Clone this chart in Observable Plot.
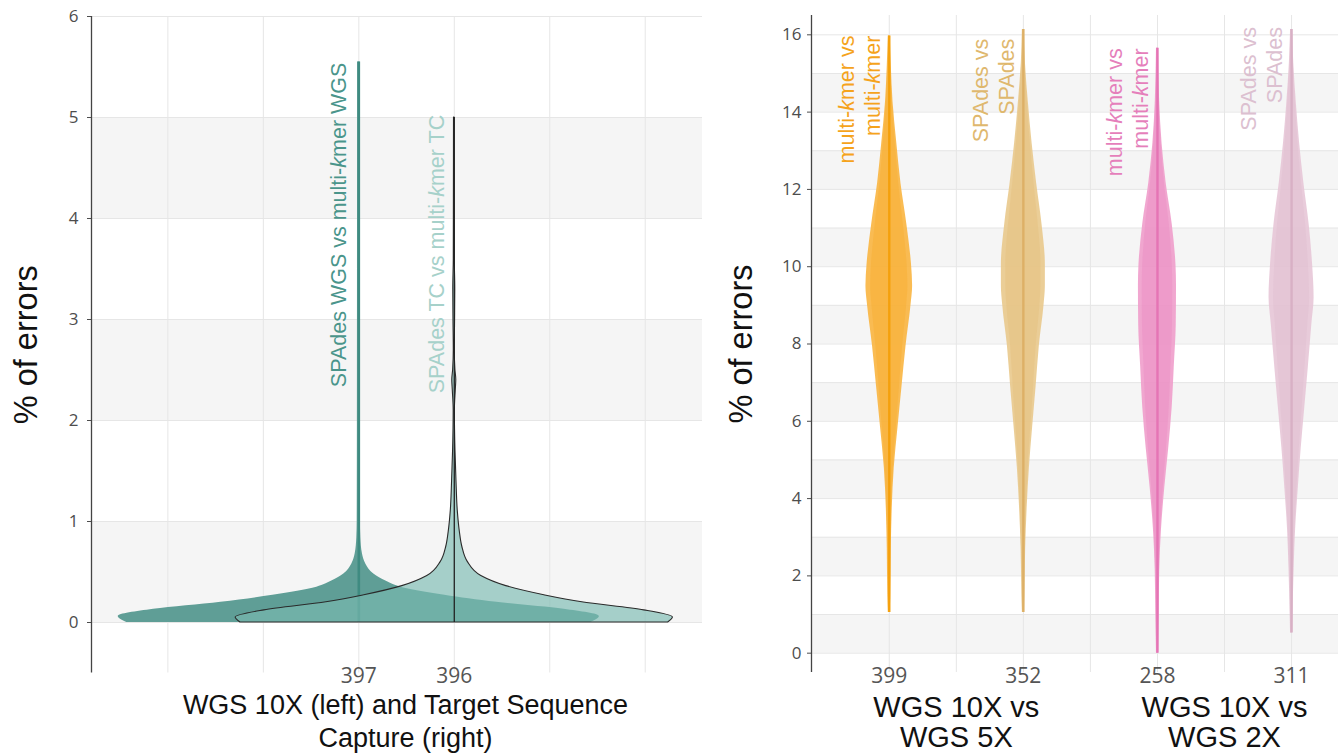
<!DOCTYPE html>
<html><head><meta charset="utf-8">
<script src="https://cdn.jsdelivr.net/npm/d3@7"></script>
<script src="https://cdn.jsdelivr.net/npm/@observablehq/plot@0.6"></script>
<style>
body{margin:0;background:#fff;}
#wrap{position:relative;width:1338px;height:754px;overflow:hidden;background:#fff;}
#left{position:absolute;left:0;top:0;}
#right{position:absolute;left:720px;top:0;}
</style></head><body><div id="wrap"><div id="left"></div><div id="right"></div></div>
<script>
// ---------- LEFT PANEL DATA ----------
const leftCategories = ["397", "396"];
const leftPositions = [3, 4];
const leftViolinLabels = ["SPAdes WGS vs multi-kmer WGS", "SPAdes TC vs multi-kmer TC"];
const leftTitle = "WGS 10X (left) and Target Sequence\nCapture (right)";
const leftTicks = [0, 1, 2, 3, 4, 5, 6];
// violin profiles: % of errors and half-width (density, in x units)
const wgsY  = [0, 0.06, 0.13, 0.2, 0.27, 0.35, 0.41, 0.48, 0.58, 0.68, 0.84, 1.0, 2.0, 3.5, 5.55];
const wgsHW = [2.43, 2.52, 2.15, 1.445, 0.90, 0.44, 0.283, 0.157, 0.073, 0.038, 0.021, 0.017, 0.015, 0.014, 0.013];
const tcY   = [0, 0.05, 0.12, 0.2, 0.27, 0.36, 0.46, 0.6, 0.75, 0.9, 1.1, 1.4, 1.7, 2.1, 2.3, 2.4, 2.5, 2.7, 3.0, 3.3, 3.6, 4.2, 5.0];
const tcHW  = [2.24, 2.29, 1.99, 1.34, 0.943, 0.545, 0.283, 0.141, 0.084, 0.058, 0.037, 0.023, 0.0126, 0.0063, 0.0157, 0.021, 0.012, 0.0052, 0.0084, 0.0105, 0.0052, 0.004, 0.003];

// ---------- RIGHT PANEL DATA ----------
const rightCategories = ["399", "352", "258", "311"];
const rightPositions = [1, 2, 3, 4];
const rightViolinLabels = ["multi-kmer vs\nmulti-kmer", "SPAdes vs\nSPAdes", "multi-kmer vs\nmulti-kmer", "SPAdes vs\nSPAdes"];
const rightGroups = ["WGS 10X vs\nWGS 5X", "WGS 10X vs\nWGS 2X"];
const rightGroupPositions = [1.5, 3.5];
const rightTicks = [0, 2, 4, 6, 8, 10, 12, 14, 16];
const mk5Y  = [1.05, 1.5, 2.7, 3.74, 4.8, 5.84, 6.9, 7.95, 9.0, 9.5, 10.05, 11.1, 12.16, 13.2, 14.26, 15.2, 15.97];
const mk5HW = [0.0075, 0.011, 0.015, 0.022, 0.037, 0.065, 0.095, 0.125, 0.162, 0.174, 0.166, 0.131, 0.087, 0.056, 0.028, 0.015, 0.0075];
const sp5Y  = [1.05, 1.5, 2.7, 3.74, 4.8, 5.84, 6.9, 7.95, 9.0, 9.5, 10.05, 11.1, 12.16, 13.2, 14.26, 15.3, 16.14];
const sp5HW = [0.0075, 0.011, 0.017, 0.028, 0.045, 0.069, 0.095, 0.119, 0.154, 0.164, 0.164, 0.139, 0.099, 0.065, 0.037, 0.015, 0.0075];
const mk2Y  = [0.0, 1.1, 2.16, 3.2, 4.26, 5.3, 6.37, 7.4, 8.5, 9.5, 10.05, 11.1, 12.16, 13.2, 14.3, 15.65];
const mk2HW = [0.0075, 0.0127, 0.017, 0.03, 0.054, 0.084, 0.11, 0.125, 0.14, 0.142, 0.138, 0.11, 0.065, 0.034, 0.016, 0.0075];
const sp2Y  = [0.52, 1.2, 2.16, 3.2, 4.26, 5.3, 6.37, 7.4, 8.5, 9.2, 10.05, 11.1, 12.16, 13.2, 14.26, 15.3, 16.14];
const sp2HW = [0.0075, 0.012, 0.019, 0.03, 0.05, 0.072, 0.099, 0.125, 0.151, 0.168, 0.157, 0.131, 0.092, 0.06, 0.035, 0.016, 0.0075];

// ---------- helpers ----------
function rows(ys, hws, c, k = 1) {
  return ys.map((y, i) => ({y, x1: c - hws[i] * k, x2: c + hws[i] * k}));
}
function italicK(svg) {
  const w = document.createTreeWalker(svg, NodeFilter.SHOW_TEXT);
  const nodes = [];
  while (w.nextNode()) nodes.push(w.currentNode);
  for (const n of nodes) {
    const s = n.nodeValue;
    if (!s.includes("-kmer")) continue;
    const parts = s.split("-kmer");
    const frag = document.createDocumentFragment();
    parts.forEach((p, i) => {
      if (i > 0) {
        frag.append("-");
        const t = document.createElementNS("http://www.w3.org/2000/svg", "tspan");
        t.setAttribute("font-style", "italic");
        t.textContent = "k";
        frag.append(t);
        frag.append("mer");
      }
      frag.append(p);
    });
    n.replaceWith(frag);
  }
}
const FONT = "Liberation Sans, Arial, sans-serif";
const TICKFONT = "Open Sans, Liberation Sans, sans-serif";
const GRID = "#e6e6e6", BAND = "#f5f5f5";

// ---------- LEFT PLOT ----------
const lx = [0.2, 6.6];
const leftPlot = Plot.plot({
  width: 720, height: 754,
  marginLeft: 91, marginRight: 18, marginTop: 16, marginBottom: 81.5,
  x: {domain: lx, axis: null},
  y: {domain: [-0.5, 6]},
  style: {fontFamily: FONT, background: "white", overflow: "visible"},
  marks: [
    Plot.rect([0, 2, 4], {y1: d => d, y2: d => d + 1, x1: lx[0], x2: lx[1], fill: BAND}),
    Plot.ruleY(leftTicks, {stroke: GRID, strokeWidth: 1}),
    Plot.ruleX([1, 2, 3, 4, 5, 6], {stroke: GRID, strokeWidth: 1}),
    // WGS violin (dark teal)
    Plot.areaX(rows(wgsY, wgsHW, leftPositions[0]), {y: "y", x1: "x1", x2: "x2", fill: "#5f9e96", curve: "monotone-y"}),
    Plot.ruleX([leftPositions[0]], {y1: 0, y2: d3.max(wgsY), stroke: "#3f8b81", strokeWidth: 2.6}),
    // TC violin (light teal, black outline)
    Plot.areaX(rows(tcY, tcHW, leftPositions[1]), {y: "y", x1: "x1", x2: "x2", fill: "rgb(122,186,176)", fillOpacity: 0.65, curve: "monotone-y"}),
    Plot.areaX(rows(tcY, tcHW, leftPositions[1]), {y: "y", x1: "x1", x2: "x2", fill: "none", stroke: "#2a2a2a", strokeWidth: 1.1, curve: "monotone-y"}),
    Plot.ruleX([leftPositions[1]], {y1: 0, y2: d3.max(tcY), stroke: "#222", strokeWidth: 1.3}),
    // y axis
    Plot.axisY(leftTicks, {tickSize: 4, tickPadding: 9, tickFormat: d => String(d), fontSize: 17, fontFamily: TICKFONT, color: "#4d4d4d", label: null}),
    Plot.ruleX([lx[0]], {stroke: "#444", strokeWidth: 1.3}),
    // x tick labels
    Plot.text(leftCategories, {x: (d, i) => leftPositions[i], text: d => d, frameAnchor: "bottom", lineAnchor: "middle", dy: 3.5, fontSize: 21, fontFamily: TICKFONT, fill: "#555"}),
    // violin labels
    Plot.text(leftViolinLabels, {x: (d, i) => leftPositions[i] + [-0.21, -0.176][i], y: (d, i) => [2.33, 2.27][i], text: d => d, rotate: -90, textAnchor: "start", lineAnchor: "middle", fontSize: 21.5, fill: (d, i) => ["#4a958b", "#a6d1ca"][i]}),
    // titles
    Plot.text([leftTitle], {frameAnchor: "bottom", lineAnchor: "middle", textAnchor: "middle", dx: 8.5, dy: 47, lineHeight: 1.222, fontSize: 27, fill: "#111"}),
    Plot.text(["% of errors"], {frameAnchor: "left", textAnchor: "middle", lineAnchor: "middle", rotate: -90, dx: -64.5, fontSize: 32.5, fill: "#111"})
  ]
});
italicK(leftPlot);
document.getElementById("left").append(leftPlot);

// ---------- RIGHT PLOT ----------
const rx = [0.42, 4.35];
const rViolins = [
  {y: mk5Y, hw: mk5HW, fill: "#f9b540", line: "#f5a00c", label: "#f5a31c", top: 15.98},
  {y: sp5Y, hw: sp5HW, fill: "#e9c98c", line: "#ddb066", label: "#dfb86e", top: 15.9},
  {y: mk2Y, hw: mk2HW, fill: "#ef9dcb", line: "#e574b5", label: "#e57fbb", top: 15.65},
  {y: sp2Y, hw: sp2HW, fill: "#e7c6d7", line: "#d8b0c5", label: "#dcc0d0", top: 16.2}
];
const rMarks = [
  Plot.rect([0, 2, 4, 6, 8, 10, 12, 14], {y1: d => d, y2: d => d + 1, x1: rx[0], x2: rx[1], fill: BAND}),
  Plot.ruleY(d3.range(0, 17), {stroke: GRID, strokeWidth: 1}),
  Plot.ruleX([1, 1.5, 2, 2.5, 3, 3.5, 4], {stroke: GRID, strokeWidth: 1})
];
rViolins.forEach((v, i) => {
  const c = rightPositions[i];
  rMarks.push(Plot.areaX(rows(v.y, v.hw, c), {y: "y", x1: "x1", x2: "x2", fill: v.fill, fillOpacity: 0.9, curve: "monotone-y"}));
  rMarks.push(Plot.areaX(rows(v.y, v.hw, c, 0.8), {y: "y", x1: "x1", x2: "x2", fill: v.line, fillOpacity: 0.22, curve: "monotone-y"}));
  rMarks.push(Plot.ruleX([c], {y1: d3.min(v.y), y2: d3.max(v.y), stroke: v.line, strokeWidth: 2.4}));
});
rMarks.push(
  Plot.axisY(rightTicks, {tickSize: 4, tickPadding: 6, tickFormat: d => String(d), fontSize: 17, fontFamily: TICKFONT, color: "#4d4d4d", label: null}),
  Plot.ruleX([rx[0]], {stroke: "#444", strokeWidth: 1.3}),
  Plot.text(rightCategories, {x: (d, i) => rightPositions[i], text: d => d, frameAnchor: "bottom", lineAnchor: "middle", dy: 4, fontSize: 21, fontFamily: TICKFONT, fill: "#555"}),
  Plot.text(rightViolinLabels, {x: (d, i) => rightPositions[i] - 0.231, y: (d, i) => rViolins[i].top, text: d => d, rotate: -90, textAnchor: "end", lineAnchor: "middle", lineHeight: 1.21, fontSize: 21.5, fill: (d, i) => rViolins[i].label}),
  Plot.text(rightGroups, {x: (d, i) => rightGroupPositions[i], text: d => d, frameAnchor: "bottom", lineAnchor: "middle", textAnchor: "middle", dy: 50, lineHeight: 1.05, fontSize: 29, fill: "#111"}),
  Plot.text(["% of errors"], {frameAnchor: "left", textAnchor: "middle", lineAnchor: "middle", rotate: -90, dx: -69.5, fontSize: 32.5, fill: "#111"})
);
const rightPlot = Plot.plot({
  width: 618, height: 754,
  marginLeft: 91, marginRight: 0, marginTop: 15, marginBottom: 82,
  x: {domain: rx, axis: null},
  y: {domain: [-0.5, 16.5]},
  style: {fontFamily: FONT, background: "white", overflow: "visible"},
  marks: rMarks
});
italicK(rightPlot);
document.getElementById("right").append(rightPlot);
</script>
</body></html>
